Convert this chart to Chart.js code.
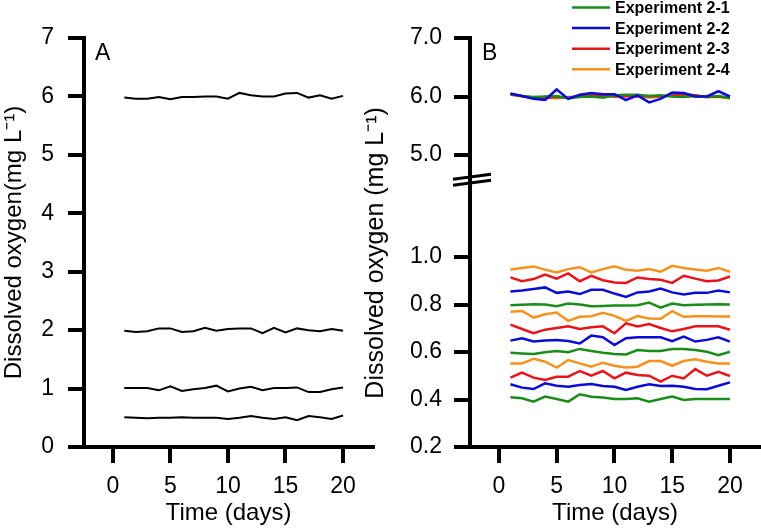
<!DOCTYPE html>
<html>
<head>
<meta charset="utf-8">
<script src="https://cdn.jsdelivr.net/npm/chart.js@4.4.1/dist/chart.umd.min.js"></script>
<style>
  html, body { margin: 0; padding: 0; background: #fff; }
  canvas { position: absolute; top: 0; }
  #chartA { left: 0; }
  #chartB { left: 360px; }
</style>
</head>
<body>
<canvas id="chartA" width="380" height="531"></canvas>
<canvas id="chartB" width="401" height="531"></canvas>
<script>
// ---- data ----
const days = [1, 2, 3, 4, 5, 6, 7, 8, 9, 10, 11, 12, 13, 14, 15, 16, 17, 18, 19, 20];
const xTicks = [0, 5, 10, 15, 20];
const yTicksA = [0, 1, 2, 3, 4, 5, 6, 7];
const yTicksBTop = [5, 6, 7];
const yTicksBBot = [0.2, 0.4, 0.6, 0.8, 1.0];

// panel A (black lines)
const a6 = [5.98, 5.96, 5.96, 5.99, 5.95, 5.99, 5.99, 6.00, 6.00, 5.96, 6.06, 6.02, 6.00, 6.00, 6.05, 6.06, 5.98, 6.02, 5.96, 6.01];
const a2 = [1.99, 1.97, 1.98, 2.03, 2.03, 1.97, 1.98, 2.04, 1.99, 2.02, 2.03, 2.03, 1.95, 2.04, 1.96, 2.03, 2.00, 1.98, 2.02, 1.99];
const a1 = [1.01, 1.01, 1.01, 0.97, 1.04, 0.96, 0.99, 1.01, 1.05, 0.95, 1.00, 1.03, 0.97, 1.01, 1.01, 1.02, 0.94, 0.94, 0.99, 1.02];
const a05 = [0.51, 0.50, 0.49, 0.50, 0.50, 0.51, 0.50, 0.50, 0.50, 0.48, 0.50, 0.53, 0.50, 0.48, 0.51, 0.46, 0.53, 0.51, 0.48, 0.54];

// panel B
const legendLabels = ['Experiment 2-1', 'Experiment 2-2', 'Experiment 2-3', 'Experiment 2-4'];
const colors = ['#1a8c1a', '#0b0bd6', '#e8141b', '#f5921e'];

// Experiment 2-1 (green)
const e1_60 = [6.04, 6.01, 5.99, 6.00, 6.01, 5.97, 5.99, 6.00, 5.98, 6.02, 6.03, 6.03, 6.01, 6.02, 6.00, 5.99, 6.01, 5.99, 6.01, 5.97];
const e1_80 = [0.797, 0.799, 0.801, 0.800, 0.793, 0.804, 0.800, 0.793, 0.794, 0.796, 0.796, 0.797, 0.808, 0.787, 0.804, 0.797, 0.799, 0.800, 0.801, 0.800];
const e1_60b = [0.597, 0.594, 0.592, 0.599, 0.604, 0.599, 0.613, 0.604, 0.597, 0.592, 0.590, 0.608, 0.604, 0.604, 0.613, 0.613, 0.608, 0.601, 0.587, 0.601];
const e1_40 = [0.409, 0.405, 0.391, 0.412, 0.402, 0.391, 0.422, 0.412, 0.408, 0.402, 0.402, 0.405, 0.391, 0.402, 0.412, 0.398, 0.402, 0.402, 0.402, 0.402];

// Experiment 2-2 (blue)
const e2_60 = [6.05, 6.01, 5.96, 5.94, 6.12, 5.96, 6.03, 6.06, 6.04, 6.04, 5.94, 6.02, 5.90, 5.96, 6.07, 6.06, 6.00, 6.00, 6.09, 6.00];
const e2_85 = [0.855, 0.859, 0.865, 0.872, 0.849, 0.855, 0.844, 0.862, 0.862, 0.846, 0.832, 0.851, 0.855, 0.867, 0.851, 0.842, 0.849, 0.849, 0.859, 0.851];
const e2_65 = [0.648, 0.658, 0.644, 0.648, 0.651, 0.646, 0.636, 0.669, 0.662, 0.629, 0.658, 0.662, 0.662, 0.662, 0.646, 0.665, 0.644, 0.651, 0.662, 0.644];
const e2_46 = [0.464, 0.450, 0.444, 0.468, 0.458, 0.454, 0.461, 0.465, 0.457, 0.454, 0.440, 0.454, 0.464, 0.457, 0.458, 0.454, 0.444, 0.443, 0.458, 0.472];

// Experiment 2-3 (red)
const e3_60 = [6.04, 6.01, 5.98, 5.97, 5.99, 5.98, 6.01, 6.02, 6.01, 6.00, 6.01, 6.00, 6.01, 6.00, 6.02, 6.04, 6.02, 5.99, 6.00, 5.98];
const e3_91 = [0.914, 0.898, 0.907, 0.926, 0.909, 0.931, 0.898, 0.921, 0.902, 0.893, 0.891, 0.914, 0.907, 0.904, 0.891, 0.921, 0.909, 0.898, 0.901, 0.918];
const e3_70 = [0.715, 0.697, 0.679, 0.694, 0.701, 0.708, 0.697, 0.704, 0.708, 0.679, 0.721, 0.708, 0.718, 0.701, 0.687, 0.697, 0.708, 0.708, 0.708, 0.694];
const e3_49 = [0.492, 0.513, 0.492, 0.482, 0.496, 0.496, 0.520, 0.500, 0.520, 0.489, 0.513, 0.503, 0.500, 0.475, 0.500, 0.489, 0.528, 0.500, 0.517, 0.499];

// Experiment 2-4 (orange)
const e4_60 = [6.03, 6.00, 5.98, 5.99, 5.97, 5.99, 6.00, 6.01, 6.02, 6.00, 6.02, 6.02, 5.98, 6.00, 6.01, 6.02, 6.00, 5.99, 5.99, 5.97];
const e4_95 = [0.947, 0.954, 0.960, 0.947, 0.935, 0.949, 0.957, 0.935, 0.949, 0.961, 0.946, 0.942, 0.949, 0.938, 0.963, 0.954, 0.947, 0.942, 0.954, 0.938];
const e4_76 = [0.769, 0.773, 0.745, 0.759, 0.766, 0.731, 0.748, 0.751, 0.765, 0.752, 0.731, 0.751, 0.741, 0.740, 0.772, 0.748, 0.751, 0.751, 0.749, 0.749];
const e4_55 = [0.552, 0.552, 0.571, 0.559, 0.534, 0.566, 0.552, 0.538, 0.555, 0.542, 0.535, 0.538, 0.562, 0.562, 0.542, 0.562, 0.569, 0.559, 0.552, 0.552];

// ---- styling helpers ----
const FONT = "'Liberation Sans', Arial, sans-serif";
const TICK_LEN = 16;

function axisStyle(ticks, pad, fmt) {
    return {
        border: { display: true, color: '#000', width: 4 },
        grid: { display: true, drawOnChartArea: false, drawTicks: true, tickLength: TICK_LEN, tickWidth: 4, lineWidth: 4, tickColor: '#000' },
        ticks: { color: '#000', font: { family: FONT, size: 23 }, padding: pad, autoSkip: false, maxRotation: 0,
                 callback: fmt || (v => String(v)) },
        afterBuildTicks: s => { s.ticks = ticks.map(v => ({ value: v })); }
    };
}

function titleStyle(text, size, pad) {
    return { display: true, text: text, color: '#000', font: { family: FONT, size: size }, padding: pad };
}

function line(data, color, axis, width, order) {
    return { data: data, borderColor: color, borderWidth: width, pointRadius: 0, tension: 0,
             fill: false, yAxisID: axis, order: order };
}

// outward tick marks, placed from each scale's own ticks
const tickMarks = {
    id: 'tickMarks',
    afterDraw(chart) {
        const ctx = chart.ctx;
        ctx.save();
        ctx.strokeStyle = '#000';
        ctx.lineWidth = 4;
        Object.values(chart.scales).forEach(s => {
            if (!s.options.grid.display || !s.options.border.display) return;
            s.ticks.forEach(t => {
                const p = Math.round(s.getPixelForValue(t.value));
                ctx.beginPath();
                if (s.isHorizontal()) {
                    ctx.moveTo(p, s.top);
                    ctx.lineTo(p, s.top + TICK_LEN);
                } else {
                    ctx.moveTo(s.right - TICK_LEN, p);
                    ctx.lineTo(s.right, p);
                }
                ctx.stroke();
            });
        });
        ctx.restore();
    }
};

function panelLetter(letter, x) {
    return {
        id: 'letter' + letter,
        afterDraw(chart) {
            const ctx = chart.ctx;
            ctx.save();
            ctx.font = '23px ' + FONT;
            ctx.fillStyle = '#000';
            ctx.textBaseline = 'alphabetic';
            ctx.fillText(letter, x, 60);
            ctx.restore();
        }
    };
}

// the // marks on the B axis where the scale jumps
const axisBreak = {
    id: 'axisBreak',
    afterDraw(chart) {
        const ctx = chart.ctx;
        const x = chart.chartArea.left;
        const y = chart.scales.yBot.top;
        ctx.save();
        ctx.strokeStyle = '#000';
        ctx.lineWidth = 3;
        [-4, 2].forEach(o => {
            ctx.beginPath();
            ctx.moveTo(x - 17, y + o + 2.2);
            ctx.lineTo(x + 21, y + o - 2.8);
            ctx.stroke();
        });
        ctx.restore();
    }
};

const legendB = {
    id: 'legendB',
    afterDraw(chart) {
        const ctx = chart.ctx;
        ctx.save();
        ctx.font = 'bold 16px ' + FONT;
        ctx.textBaseline = 'middle';
        ctx.fillStyle = '#000';
        legendLabels.forEach((lab, i) => {
            const y = 7.5 + i * 20.6;
            ctx.strokeStyle = colors[i];
            ctx.lineWidth = 2.5;
            ctx.beginPath();
            ctx.moveTo(212, y);
            ctx.lineTo(250, y);
            ctx.stroke();
            ctx.fillText(lab, 255, y + 1);
        });
        ctx.restore();
    }
};

// ---- panel A ----
new Chart(document.getElementById('chartA'), {
    type: 'line',
    data: {
        labels: days,
        datasets: [a6, a2, a1, a05].map(d => line(d, '#000', 'y', 2, 0))
    },
    options: {
        responsive: false,
        animation: false,
        events: [],
        layout: { padding: { top: 38, right: 7, left: 0, bottom: 0 } },
        plugins: { legend: { display: false }, tooltip: { enabled: false } },
        scales: {
            x: Object.assign({ type: 'linear', min: -2.5, max: 22.6,
                               title: titleStyle('Time (days)', 24, { top: 0, bottom: 3 }),
                               afterFit: s => { s.height = 84; } }, axisStyle(xTicks, 10)),
            y: Object.assign({ type: 'linear', min: 0, max: 7,
                               title: titleStyle('Dissolved oxygen(mg L\u207B\u00B9)', 24, { top: 0, bottom: 0 }),
                               afterFit: s => { s.width = 84; } }, axisStyle(yTicksA, 14))
        }
    },
    plugins: [tickMarks, panelLetter('A', 95)]
});

// ---- panel B ----
const fmt1 = v => Number(v).toFixed(1);
const groupsB = [
    [e1_60, [e1_80, e1_60b, e1_40]],
    [e2_60, [e2_85, e2_65, e2_46]],
    [e3_60, [e3_91, e3_70, e3_49]],
    [e4_60, [e4_95, e4_76, e4_55]]
];
// blue drawn on top, then green, red, orange
const drawOrder = [1, 0, 2, 3];
const datasetsB = [];
groupsB.forEach((g, i) => {
    datasetsB.push(line(g[0], colors[i], 'yTop', 2.5, drawOrder[i]));
    g[1].forEach(d => datasetsB.push(line(d, colors[i], 'yBot', 2.5, drawOrder[i])));
});

new Chart(document.getElementById('chartB'), {
    type: 'line',
    data: { labels: days, datasets: datasetsB },
    options: {
        responsive: false,
        animation: false,
        events: [],
        layout: { padding: { top: 38, right: 1, left: 0, bottom: 0 } },
        plugins: { legend: { display: false }, tooltip: { enabled: false } },
        scales: {
            x: Object.assign({ type: 'linear', min: -2.5, max: 22.6,
                               title: titleStyle('Time (days)', 24, { top: 0, bottom: 3 }),
                               afterFit: s => { s.height = 84; } }, axisStyle(xTicks, 10)),
            yBot: Object.assign({ type: 'linear', position: 'left', stack: 'b', stackWeight: 266,
                                  min: 0.2, max: 1.32,
                                  afterFit: s => { s.width = 80; } }, axisStyle(yTicksBBot, 12, fmt1)),
            yTop: Object.assign({ type: 'linear', position: 'left', stack: 'b', stackWeight: 143,
                                  min: 4.556, max: 7,
                                  afterFit: s => { s.width = 80; } }, axisStyle(yTicksBTop, 12, fmt1)),
            yTitle: { type: 'linear', position: 'left', weight: 1, min: 0, max: 1,
                      border: { display: false }, grid: { display: false }, ticks: { display: false },
                      title: titleStyle('Dissolved oxygen (mg L\u207B\u00B9)   ', 25, { top: 1, bottom: 0 }),
                      afterFit: s => { s.width = 30; } }
        }
    },
    plugins: [tickMarks, panelLetter('B', 122), axisBreak, legendB]
});
</script>
</body>
</html>
